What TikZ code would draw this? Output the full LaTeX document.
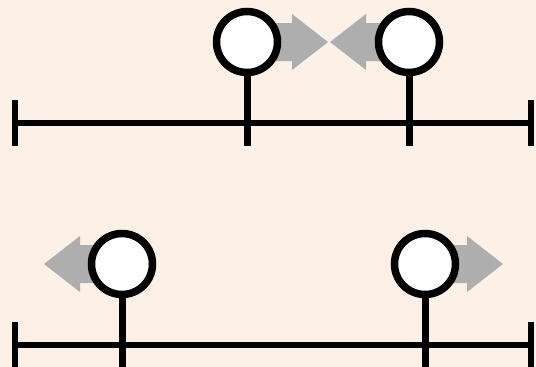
\documentclass[tikz,border=0pt]{standalone}
\definecolor{bgpeach}{HTML}{FDF0E6}
\definecolor{arrowgray}{HTML}{AEAEAE}
\tikzset{
  bead/.style={circle, draw=black, fill=white, line width=7.5pt, minimum size=61pt, inner sep=0pt},
  axisline/.style={line width=6pt, black},
  stemline/.style={line width=7pt, black},
  garrow/.pic={\fill[arrowgray] (0,0) -- (-36,28) -- (-36,19) -- (-72,19) -- (-72,-19) -- (-36,-19) -- (-36,-28) -- cycle;}
}
\begin{document}
\begin{tikzpicture}[x=1pt,y=-1pt]
\fill[bgpeach] (0,0) rectangle (536,367);
\useasboundingbox (0,0) rectangle (536,367);
% top axis
\coordinate (tl) at (15,123);
\coordinate (tr) at (531,123);
\draw[axisline] (tl) -- (tr);
\draw[axisline] (15,100) -- (15,146);
\draw[axisline] (531,100) -- (531,146);
% top arrows
\pic at (328,42) {garrow};
\pic[xscale=-1] at (330,42) {garrow};
% top beads
\node[bead] (b1) at (247,42) {};
\node[bead] (b2) at (409,42) {};
\coordinate (s1) at (247,146);
\coordinate (s2) at (409,146);
\draw[stemline] (b1.south) -- (s1);
\draw[stemline] (b2.south) -- (s2);
% bottom axis
\coordinate (bl) at (15,345);
\coordinate (br) at (531,345);
\draw[axisline] (bl) -- (br);
\draw[axisline] (15,322) -- (15,370);
\draw[axisline] (531,322) -- (531,370);
% bottom arrows
\pic[xscale=-1] at (44,264) {garrow};
\pic at (503,264) {garrow};
% bottom beads
\node[bead] (b3) at (122,264) {};
\node[bead] (b4) at (425,264) {};
\coordinate (s3) at (122,370);
\coordinate (s4) at (425,370);
\draw[stemline] (b3.south) -- (s3);
\draw[stemline] (b4.south) -- (s4);
\end{tikzpicture}
\end{document}
